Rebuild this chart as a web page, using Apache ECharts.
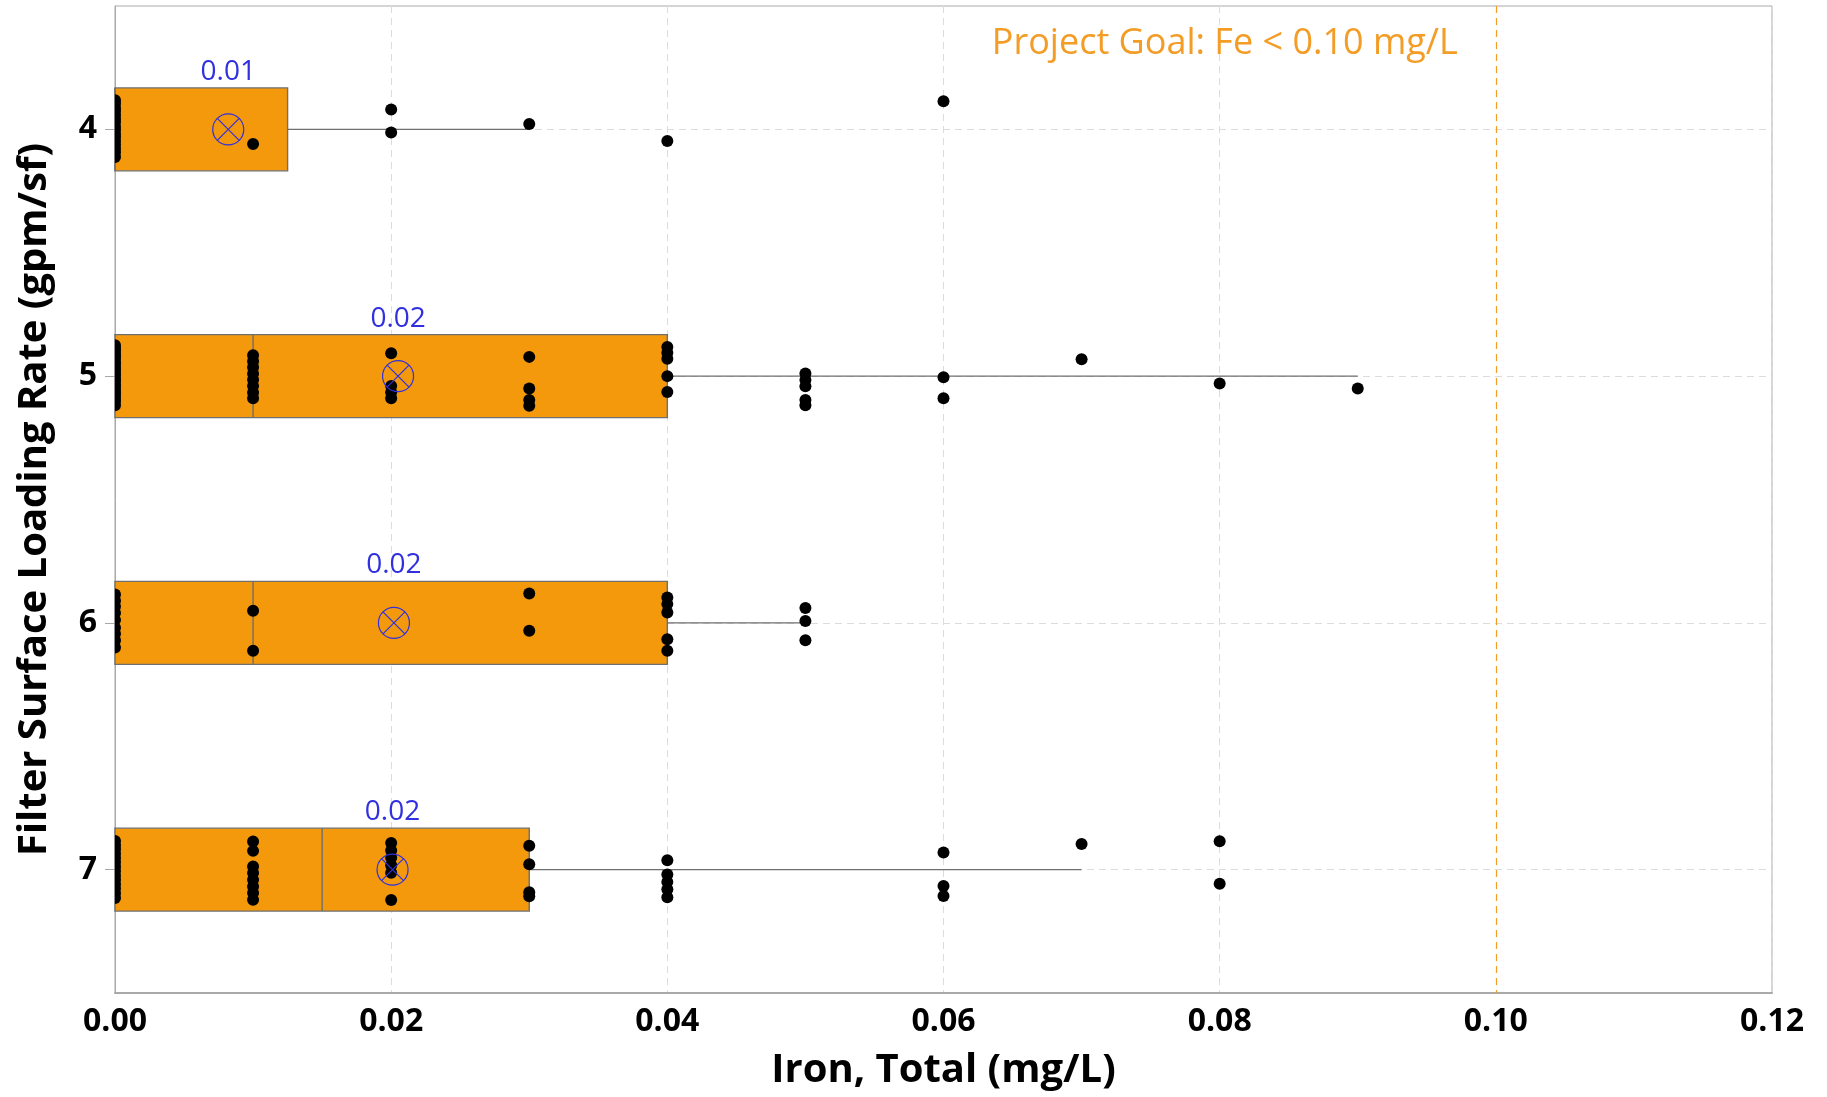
<!DOCTYPE html>
<html>
<head>
<meta charset="utf-8">
<script src="https://cdn.jsdelivr.net/npm/echarts@6/dist/echarts.min.js"></script>
<style>
  html, body { margin: 0; padding: 0; background: #ffffff; }
  #chart { width: 1827px; height: 1097px; }
</style>
</head>
<body>
<div id="chart"></div>
<script>
// Filter surface loading rates (gpm/sf), one box per rate
const rates = [4, 5, 6, 7];

// Box statistics of total iron (mg/L) per rate
const q1 = [0, 0, 0, 0];
const medians = [0, 0.01, 0.01, 0.015];
const q3 = [0.0125, 0.04, 0.04, 0.03];
const whiskerLow = [0, 0, 0, 0];
const whiskerHigh = [0.03, 0.09, 0.05, 0.07];
const means = [0.0082, 0.0205, 0.0202, 0.0201];

// Individual samples per rate: [iron (mg/L), vertical jitter in rate units]
const samples4 = [
  [0, -0.118], [0, -0.104], [0, -0.087], [0, -0.074], [0, -0.058], [0, -0.043], [0, -0.03], [0, -0.012],
  [0, 0.002], [0, 0.018], [0, 0.031], [0, 0.047], [0, 0.062], [0, 0.078], [0, 0.093], [0, 0.112],
  [0.01, 0.059], [0.02, -0.081], [0.02, 0.013], [0.03, -0.022], [0.04, 0.047], [0.06, -0.114]
];
const samples5 = [
  [0, -0.125], [0, -0.113], [0, -0.104], [0, -0.091], [0, -0.08], [0, -0.071], [0, -0.057], [0, -0.048],
  [0, -0.035], [0, -0.025], [0, -0.012], [0, -0.003], [0, 0.011], [0, 0.02], [0, 0.033], [0, 0.043],
  [0, 0.056], [0, 0.067], [0, 0.077], [0, 0.09], [0, 0.102], [0, 0.118],
  [0.01, -0.085], [0.01, -0.06], [0.01, -0.036], [0.01, -0.01], [0.01, 0.015], [0.01, 0.04], [0.01, 0.066], [0.01, 0.09],
  [0.02, -0.093], [0.02, 0.04], [0.02, 0.065], [0.02, 0.09],
  [0.03, -0.078], [0.03, 0.05], [0.03, 0.097], [0.03, 0.12],
  [0.04, -0.118], [0.04, -0.095], [0.04, -0.07], [0.04, 0.0], [0.04, 0.064],
  [0.05, -0.011], [0.05, 0.016], [0.05, 0.041], [0.05, 0.097], [0.05, 0.118],
  [0.06, 0.005], [0.06, 0.09],
  [0.07, -0.068], [0.08, 0.03], [0.09, 0.05]
];
const samples6 = [
  [0, -0.115], [0, -0.09], [0, -0.066], [0, -0.04], [0, -0.012], [0, 0.02], [0, 0.044], [0, 0.07], [0, 0.1],
  [0.01, -0.049], [0.01, 0.113],
  [0.03, -0.119], [0.03, 0.032],
  [0.04, -0.103], [0.04, -0.076], [0.04, -0.042], [0.04, 0.066], [0.04, 0.113],
  [0.05, -0.06], [0.05, -0.008], [0.05, 0.07]
];
const samples7 = [
  [0, -0.116], [0, -0.099], [0, -0.083], [0, -0.064], [0, -0.047], [0, -0.03], [0, -0.012],
  [0, 0.006], [0, 0.024], [0, 0.041], [0, 0.059], [0, 0.077], [0, 0.096], [0, 0.115],
  [0.01, -0.114], [0.01, -0.076], [0.01, -0.013], [0.01, 0.014], [0.01, 0.041], [0.01, 0.068], [0.01, 0.095], [0.01, 0.122],
  [0.02, -0.108], [0.02, -0.078], [0.02, -0.048], [0.02, -0.018], [0.02, 0.013], [0.02, 0.123],
  [0.03, -0.097], [0.03, -0.022], [0.03, 0.092], [0.03, 0.108],
  [0.04, -0.038], [0.04, 0.02], [0.04, 0.05], [0.04, 0.08], [0.04, 0.112],
  [0.06, -0.069], [0.06, 0.066], [0.06, 0.107],
  [0.07, -0.104],
  [0.08, -0.115], [0.08, 0.057]
];
const samplesByRate = [samples4, samples5, samples6, samples7];

// Axis ranges and labels
const xMin = 0, xMax = 0.12, xStep = 0.02;
const yTickValues = rates;
const goalValue = 0.10;
const goalText = 'Project Goal: Fe < 0.10 mg/L';
const xTitle = 'Iron, Total (mg/L)';
const yTitle = 'Filter Surface Loading Rate (gpm/sf)';

// Styling
const FONT = 'Open Sans';
const BOX_FILL = '#F4990B';
const BOX_EDGE = '#6f6f6f';
const MEAN_BLUE = '#3030E0';
const GOAL_ORANGE = '#F39C26';
const BOX_HALF = 0.168;   // half box height in rate units
const DOT_R = 6;
const MEAN_R = 15.5;

const boxData = rates.map((r, i) => [r, q1[i], medians[i], q3[i], whiskerLow[i], whiskerHigh[i]]);
const dotData = [];
samplesByRate.forEach((list, i) => list.forEach(s => dotData.push([s[0], rates[i], s[1]])));
const meanData = rates.map((r, i) => [means[i], r]);

function renderBox(params, api) {
  const rate = api.value(0);
  const unit = api.size([0, 1])[1];
  const half = BOX_HALF * unit;
  const cy = api.coord([0, rate])[1];
  const xq1 = api.coord([api.value(1), rate])[0];
  const xmed = api.coord([api.value(2), rate])[0];
  const xq3 = api.coord([api.value(3), rate])[0];
  const xlo = api.coord([api.value(4), rate])[0];
  const xhi = api.coord([api.value(5), rate])[0];
  const edge = { stroke: BOX_EDGE, lineWidth: 1.4 };
  return {
    type: 'group',
    children: [
      { type: 'line', shape: { x1: xq3, y1: cy, x2: xhi, y2: cy }, style: Object.assign({}, edge) },
      { type: 'line', shape: { x1: xlo, y1: cy, x2: xq1, y2: cy }, style: Object.assign({}, edge) },
      { type: 'rect', shape: { x: xq1, y: cy - half, width: xq3 - xq1, height: 2 * half },
        style: { fill: BOX_FILL, stroke: BOX_EDGE, lineWidth: 1.4 } },
      { type: 'line', shape: { x1: xmed, y1: cy - half, x2: xmed, y2: cy + half }, style: Object.assign({}, edge) }
    ]
  };
}

function renderDot(params, api) {
  const p = api.coord([api.value(0), api.value(1) + api.value(2)]);
  return { type: 'circle', shape: { cx: p[0], cy: p[1], r: DOT_R }, style: { fill: '#000000' } };
}

function renderMean(params, api) {
  const m = api.value(0);
  const rate = api.value(1);
  const p = api.coord([m, rate]);
  const unit = api.size([0, 1])[1];
  const top = p[1] - BOX_HALF * unit;
  const d = MEAN_R * Math.SQRT1_2;
  const st = { stroke: MEAN_BLUE, lineWidth: 1.2, fill: null };
  return {
    type: 'group',
    children: [
      { type: 'circle', shape: { cx: p[0], cy: p[1], r: MEAN_R }, style: Object.assign({}, st) },
      { type: 'line', shape: { x1: p[0] - d, y1: p[1] - d, x2: p[0] + d, y2: p[1] + d }, style: Object.assign({}, st) },
      { type: 'line', shape: { x1: p[0] + d, y1: p[1] - d, x2: p[0] - d, y2: p[1] + d }, style: Object.assign({}, st) },
      { type: 'text', style: { text: m.toFixed(2), x: p[0], y: top - 2,
          align: 'center', verticalAlign: 'bottom', textAlign: 'center', textVerticalAlign: 'bottom',
          fill: MEAN_BLUE, font: '28px "' + FONT + '"' } }
    ]
  };
}

const chart = echarts.init(document.getElementById('chart'), null, { renderer: 'canvas' });

chart.setOption({
  animation: false,
  backgroundColor: '#ffffff',
  grid: { left: 115, right: 55, top: 6, bottom: 104, show: true, borderColor: '#a9a9a9', borderWidth: 1, backgroundColor: 'transparent' },
  xAxis: {
    type: 'value', min: xMin, max: xMax, interval: xStep,
    name: xTitle, nameLocation: 'middle', nameGap: 58,
    nameTextStyle: { fontFamily: FONT, fontWeight: 'bold', fontSize: 40, color: '#000' },
    axisLine: { show: true, lineStyle: { color: '#a9a9a9', width: 2 } },
    axisTick: { show: false },
    axisLabel: { margin: 13, fontFamily: FONT, fontWeight: 'bold', fontSize: 32, color: '#000',
      formatter: v => v.toFixed(2) },
    splitLine: { show: true, lineStyle: { color: '#dcdcdc', type: [7, 5], width: 1 } }
  },
  yAxis: {
    type: 'value', min: 3.5, max: 7.5, inverse: true,
    name: yTitle, nameLocation: 'middle', nameGap: 60,
    nameTextStyle: { fontFamily: FONT, fontWeight: 'bold', fontSize: 40, color: '#000' },
    axisLine: { show: true, lineStyle: { color: '#a9a9a9', width: 1 } },
    axisTick: { show: true, length: 10, customValues: yTickValues, lineStyle: { color: '#a9a9a9' } },
    axisLabel: { margin: 18, customValues: yTickValues, fontFamily: FONT, fontWeight: 'bold', fontSize: 32, color: '#000' },
    splitLine: { show: true, lineStyle: { color: '#dcdcdc', type: [7, 5], width: 1 } }
  },
  series: [
    {
      type: 'line', data: [], silent: true,
      markLine: {
        silent: true, symbol: 'none', animation: false,
        label: { show: false },
        lineStyle: { color: GOAL_ORANGE, type: [7, 5], width: 1.2 },
        data: [{ xAxis: goalValue }]
      }
    },
    { type: 'custom', name: 'boxes', data: boxData, renderItem: renderBox, encode: { x: [1, 3, 5], y: 0 }, silent: true, z: 2 },
    { type: 'custom', name: 'samples', data: dotData, renderItem: renderDot, encode: { x: 0, y: 1 }, clip: true, silent: true, z: 3 },
    { type: 'custom', name: 'means', data: meanData, renderItem: renderMean, encode: { x: 0, y: 1 }, silent: true, z: 4 }
  ]
});

// Goal caption, right-aligned just left of the goal line
const goalX = chart.convertToPixel({ xAxisIndex: 0 }, goalValue);
chart.setOption({
  graphic: [{
    type: 'text', right: 1827 - (goalX - 38), top: 26,
    style: { text: goalText, fill: GOAL_ORANGE, font: '36px "' + FONT + '"' }
  }]
});
</script>
</body>
</html>
